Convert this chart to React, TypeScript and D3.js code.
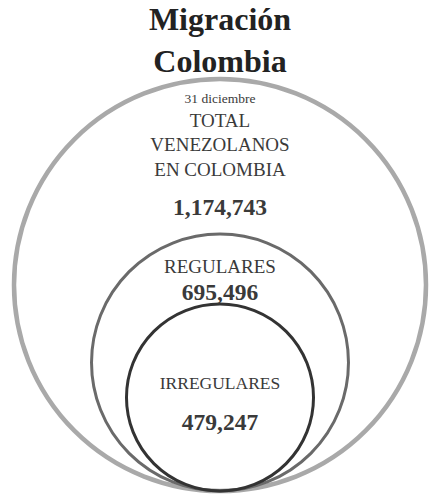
import React from "react";
import * as d3 from "d3";

const titleLines = ["Migración", "Colombia"];
const dateLabel = "31 diciembre";
const categories = ["TOTAL VENEZOLANOS EN COLOMBIA", "REGULARES", "IRREGULARES"];
const categoryLines = [["TOTAL", "VENEZOLANOS", "EN COLOMBIA"], ["REGULARES"], ["IRREGULARES"]];
const values = [1174743, 695496, 479247];

const W = 429;
const H = 495;
const CX = 220;
const BOTTOM = 491;

const strokeColors = ["#a9a9a9", "#6a6a6a", "#333333"];
const strokeWidths = [4.5, 3, 3];

const FONT = "Liberation Serif, Times New Roman, serif";

function T(props: any) {
  const { children, size, bold, y, fill } = props;
  return (
    <text
      x={CX}
      y={y}
      textAnchor="middle"
      style={{ fontFamily: FONT, fontSize: size + "px", fontWeight: bold ? 700 : 400 }}
      fill={fill || "#3a3a3a"}
    >
      {children}
    </text>
  );
}

export default function App() {
  const r = d3.scaleLinear().domain([0, d3.max(values) as number]).range([16, 206]);
  const fmt = d3.format(",");

  const circles = values.map((v, i) => ({ v, i, r: r(v), cy: BOTTOM - r(v) }));

  return (
    <svg
      width={W}
      height={H}
      viewBox={`0 0 ${W} ${H}`}
      style={{ position: "absolute", left: 0, top: 0, background: "#fff" }}
    >
      <rect width={W} height={H} fill="#fff" />
      {circles.map((c) => (
        <circle
          key={categories[c.i]}
          cx={CX}
          cy={c.cy}
          r={c.r}
          fill="none"
          stroke={strokeColors[c.i]}
          strokeWidth={strokeWidths[c.i]}
        />
      ))}
      {titleLines.map((t, i) => (
        <T key={t} y={30 + i * 42} size={32} bold fill="#222">
          {t}
        </T>
      ))}
      <T y={103} size={13.5}>{dateLabel}</T>
      {categoryLines[0].map((t, i) => (
        <T key={t} y={127 + i * 24.3} size={19}>
          {t}
        </T>
      ))}
      <T y={215} size={23.5} bold>{fmt(values[0])}</T>
      <T y={273} size={19}>{categoryLines[1][0]}</T>
      <T y={300} size={23.5} bold>{fmt(values[1])}</T>
      <T y={389} size={17.5}>{categoryLines[2][0]}</T>
      <T y={430} size={23.5} bold>{fmt(values[2])}</T>
    </svg>
  );
}
